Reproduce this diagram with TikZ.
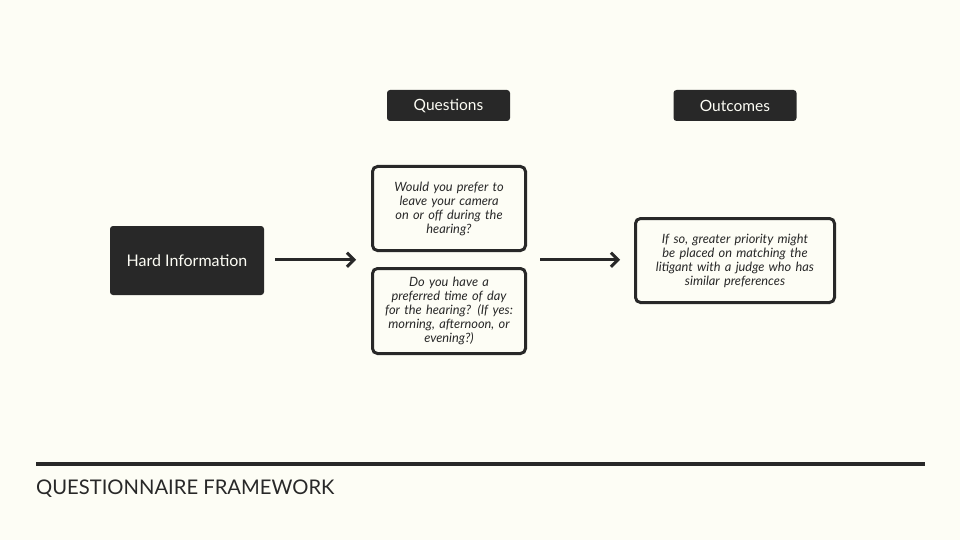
\documentclass[tikz,border=0pt]{standalone}
\usepackage{fontspec}
\setmainfont{Lato}
\usetikzlibrary{arrows.meta,calc}
\definecolor{ink}{HTML}{282828}
\definecolor{paper}{HTML}{FDFDF5}
\begin{document}
\begin{tikzpicture}[x=1pt,y=-1pt,
  header/.style={fill=ink, rounded corners=3pt, text=paper, font=\fontsize{15.5}{18}\selectfont,
    minimum width=123pt, minimum height=31pt, inner sep=0pt},
  hardbox/.style={fill=ink, rounded corners=3pt, text=paper, font=\fontsize{16}{18}\selectfont,
    minimum width=154pt, minimum height=69pt, inner sep=0pt},
  qbox/.style={draw=ink, line width=3pt, rounded corners=5pt, fill=paper, text=ink,
    font=\itshape\fontsize{12.8}{14}\selectfont, align=center, inner sep=0pt},
  flow/.style={draw=ink, line width=3pt, -{Straight Barb[length=7pt,width=14pt,line width=3pt]}}]
  % canvas
  \fill[paper] (0,0) rectangle (960,540);
  \useasboundingbox (0,0) rectangle (960,540);

  % column headers
  \node[header] (hq) at (448.5,105.5) {Questions};
  \node[header] (ho) at (735,105.5) {Outcomes};

  % source node
  \node[hardbox] (hard) at (187,260.5) {Hard Information};

  % question boxes
  \node[qbox, minimum width=153pt, minimum height=84pt, text width=140pt] (q1) at (449,208.5)
    {Would you prefer to\\ leave your camera\\ on or off during the\\ hearing?};
  \node[qbox, minimum width=153pt, minimum height=85pt, text width=145pt] (q2) at (449,311)
    {Do you have a\\ preferred time of day\\ for the hearing? (If yes:\\ morning, afternoon, or\\ evening?)};

  % outcome box
  \node[qbox, minimum width=199pt, minimum height=84pt, text width=190pt] (out) at (735,260.5)
    {If so, greater priority might\\ be placed on matching the\\ litigant with a judge who has\\ similar preferences};

  % connectors
  \coordinate (qin) at ($(q1.west)!0.5!(q2.west)$);
  \coordinate (qout) at ($(q1.east)!0.5!(q2.east)$);
  \draw[flow, shorten <=11pt, shorten >=15pt] (hard.east |- qin) -- (qin);
  \draw[flow, shorten <=13pt, shorten >=14pt] (qout) -- (out.west |- qout);

  % footer
  \coordinate (rl) at (36,464);
  \coordinate (rr) at (925,464);
  \draw[ink, line width=4pt] (rl) -- (rr);
  \node[anchor=base west, inner sep=0pt, text=ink, font=\fontsize{20.2}{24}\selectfont] (title) at (36,494)
    {QUESTIONNAIRE FRAMEWORK};
\end{tikzpicture}
\end{document}
